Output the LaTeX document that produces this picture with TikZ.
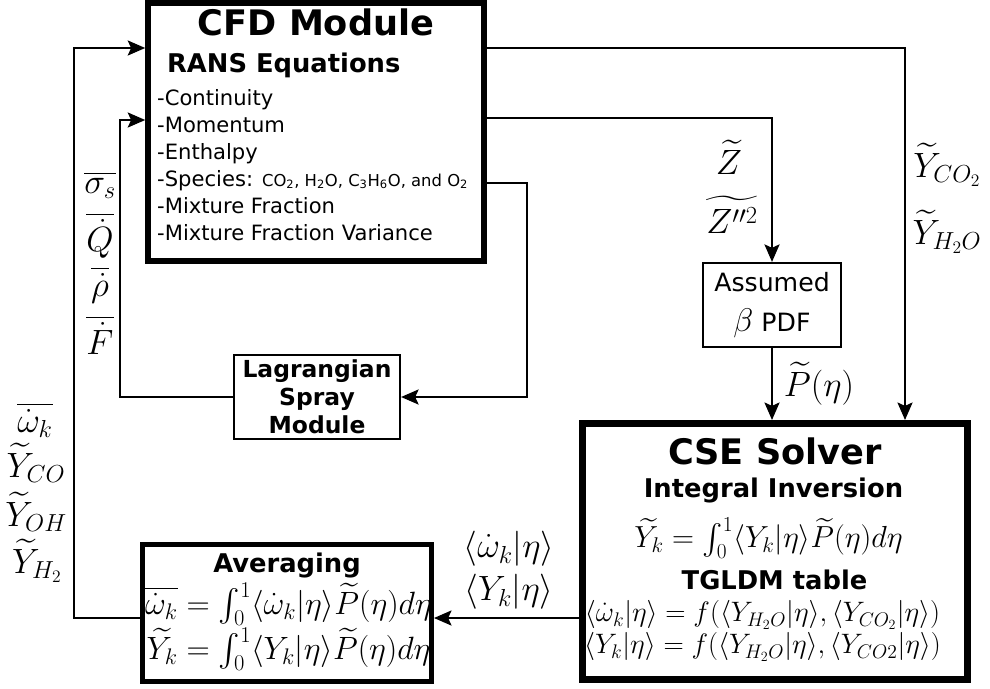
\documentclass[tikz,border=0pt]{standalone}
\usepackage{fix-cm}
\usepackage{amsmath}
\usepackage{amssymb}
\usepackage[no-math]{fontspec}
\setmainfont{DejaVu Sans}
\usetikzlibrary{arrows.meta}

\tikzset{
  module/.style={draw, rectangle, inner sep=0pt},
  heavybox/.style={module, line width=4.8pt},
  lightbox/.style={module, line width=1.9pt},
  flow/.style={line width=1pt, -{Stealth[length=15pt,width=13pt,inset=3pt]}},
  titletxt/.style={font=\fontsize{30}{34}\selectfont\bfseries},
  headtxt/.style={font=\fontsize{22}{26}\selectfont\bfseries},
  listtxt/.style={anchor=base west, inner sep=0pt, font=\fontsize{18}{22}\selectfont},
  mathlbl/.style={inner sep=0pt, font=\fontsize{30}{34}\selectfont},
  matheq/.style={inner sep=0pt, font=\fontsize{26}{30}\selectfont},
  mathsm/.style={inner sep=0pt, font=\fontsize{24}{28}\selectfont},
}

\begin{document}
\begin{tikzpicture}[x=0.03cm, y=-0.03cm]
  \useasboundingbox (0,0) rectangle (990,688);

  % CFD module
  \node[heavybox, minimum width=10.08cm, minimum height=7.74cm] (cfd) at (316,132) {};
  \node[titletxt] (cfdtitle) at (316,22) {CFD Module};
  \node[headtxt, anchor=west] (rans) at (163,65) {RANS Equations};
  \foreach \i/\txt in {0/-Continuity, 1/-Momentum, 2/-Enthalpy,
      3/{-Species: {\fontsize{14}{16}\selectfont CO\textsubscript{2}, H\textsubscript{2}O, C\textsubscript{3}H\textsubscript{6}O, and O\textsubscript{2}}},
      4/-Mixture Fraction, 5/-Mixture Fraction Variance} {
    \node[listtxt] (rans\i) at (157,{105+27*\i}) {\txt};
  }

  % Lagrangian spray
  \node[lightbox, minimum width=4.98cm, minimum height=2.52cm, align=center,
    font=\fontsize{20}{24}\selectfont\bfseries] (spray) at (317,397)
    {Lagrangian\\Spray\\Module};

  % Assumed PDF
  \node[lightbox, minimum width=4.14cm, minimum height=2.52cm, align=center,
    font=\fontsize{21.5}{34}\selectfont] (pdf) at (772,305)
    {Assumed\\{\fontsize{28}{30}\selectfont$\beta$} PDF};

  % CSE solver
  \node[heavybox, line width=6.3pt, minimum width=11.54cm, minimum height=7.67cm] (cse) at (775,551.5) {};
  \node[titletxt] (csetitle) at (775,451) {CSE Solver};
  \node[headtxt] (inv) at (773.5,490) {Integral Inversion};
  \node[matheq] (inveq) at (768.5,538)
    {$\widetilde{Y_k}=\int_0^1\langle Y_k|\eta\rangle\widetilde{P}(\eta)d\eta$};
  \node[headtxt] (tgldm) at (774.5,580) {TGLDM table};
  \node[mathsm] (tabw) at (762.5,615)
    {$\langle\dot{\omega}_k|\eta\rangle=f(\langle Y_{H_2O}|\eta\rangle,\langle Y_{CO_2}|\eta\rangle)$};
  \node[mathsm] (taby) at (762.5,647)
    {$\langle Y_k|\eta\rangle=f(\langle Y_{H_2O}|\eta\rangle,\langle Y_{CO2}|\eta\rangle)$};

  % Averaging
  \node[heavybox, line width=4.3pt, minimum width=8.67cm, minimum height=4.11cm] (avg) at (287,613) {};
  \node[headtxt] (avgtitle) at (287,565) {Averaging};
  \node[matheq, font=\fontsize{27.5}{31}\selectfont] (avgw) at (288.5,604)
    {$\overline{\dot{\omega}_k}=\int_0^1\langle\dot{\omega}_k|\eta\rangle\widetilde{P}(\eta)d\eta$};
  \node[matheq, font=\fontsize{27.5}{31}\selectfont] (avgy) at (288.5,649)
    {$\widetilde{Y_k}=\int_0^1\langle Y_k|\eta\rangle\widetilde{P}(\eta)d\eta$};

  % connectors
  \coordinate (retL) at (74,618);
  \coordinate (retT) at (74,48);
  \draw[flow] (avg.west |- retL) -| (retT) -- (cfd.west |- retT);
  \coordinate (sprT) at (120,120);
  \draw[flow] (spray.west) -| (sprT) -- (cfd.west |- sprT);
  \coordinate (spcR) at (527,183);
  \draw[flow] (cfd.east |- spcR) -- (spcR) |- (spray.east);
  \coordinate (zR) at (774,118);
  \draw[flow] (cfd.east |- zR) -| (pdf.north);
  \coordinate (yR) at (905,48);
  \draw[flow] (cfd.east |- yR) -| (cse.north -| yR);
  \draw[flow] (pdf.south) -- (cse.north -| pdf.south);
  \draw[flow] (cse.west |- retL) -- (avg.east |- retL);

  % labels
  \node[mathlbl] (zmean) at (729,157) {$\widetilde{Z}$};
  \node[mathlbl] (zvar) at (732,215) {$\widetilde{Z''^2}$};
  \node[mathlbl] (yco2) at (947,165) {$\widetilde{Y}_{CO_2}$};
  \node[mathlbl] (yh2o) at (947,232) {$\widetilde{Y}_{H_2O}$};
  \node[mathlbl] (pbeta) at (819,384) {$\widetilde{P}(\eta)$};
  \node[mathlbl] (sig) at (100,185) {$\overline{\sigma_s}$};
  \node[mathlbl] (qdot) at (100,235) {$\overline{\dot{Q}}$};
  \node[mathlbl] (rhodot) at (100,285) {$\overline{\dot{\rho}}$};
  \node[mathlbl] (fdot) at (100,335) {$\overline{\dot{F}}$};
  \node[mathlbl] (wbar) at (35,420) {$\overline{\dot{\omega}_k}$};
  \node[mathlbl] (yco) at (36,463) {$\widetilde{Y}_{CO}$};
  \node[mathlbl] (yoh) at (36,512) {$\widetilde{Y}_{OH}$};
  \node[mathlbl] (yh2) at (37,561) {$\widetilde{Y}_{H_2}$};
  \node[mathlbl] (wcond) at (509,549) {$\langle\dot{\omega}_k|\eta\rangle$};
  \node[mathlbl] (ycond) at (509,592) {$\langle Y_k|\eta\rangle$};
\end{tikzpicture}
\end{document}
